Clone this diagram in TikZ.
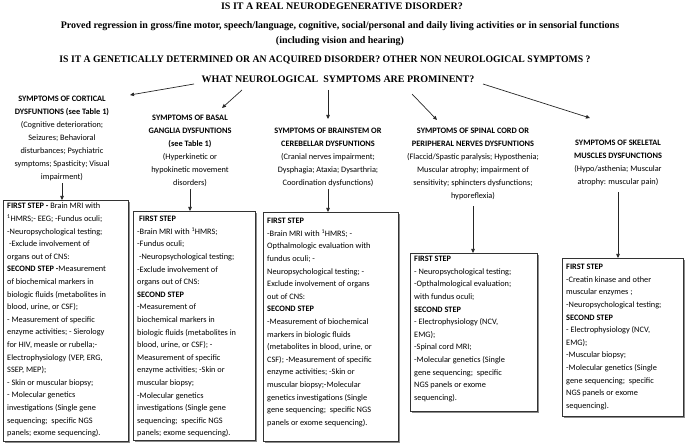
\documentclass[tikz,border=0pt]{standalone}
\usepackage{fontspec}
\setmainfont{Carlito}
\newfontfamily\tms{Liberation Serif}
\usetikzlibrary{arrows.meta,shadows}
\begin{document}
\begin{tikzpicture}[x=1pt,y=-1pt,
  q/.style={font=\tms\bfseries\fontsize{10}{12}\selectfont, inner sep=0, anchor=base},
  head/.style={align=center, font=\fontsize{8.3}{13}\selectfont, inner sep=0, anchor=north},
  frame/.style={draw=black!80, line width=0.7pt, fill=white, inner sep=0, anchor=north west,
    drop shadow={shadow xshift=1.2pt, shadow yshift=-1.2pt, fill=black!45, opacity=1}},
  btxt/.style={align=left, font=\fontsize{8.3}{12.6}\selectfont, inner sep=0, anchor=north west},
  arr/.style={-{Triangle[length=4pt,width=3.5pt]}, line width=0.7pt, black!85}
]
\useasboundingbox (0,0) rectangle (685,446);

% questions
\node[q] (q1) at (342,10) {IS IT A REAL NEURODEGENERATIVE DISORDER?};
\node[q] (q2) at (340,29) {Proved regression in gross/fine motor, speech/language, cognitive, social/personal and daily living activities or in sensorial functions};
\node[q] (q2b) at (340,44) {(including vision and hearing)};
\node[q, xscale=0.97] (q3) at (325,63) {IS IT A GENETICALLY DETERMINED OR AN ACQUIRED DISORDER? OTHER NON NEUROLOGICAL SYMPTOMS ?};
\node[q] (what) at (338,83) {WHAT NEUROLOGICAL\ \ SYMPTOMS ARE PROMINENT?};

% headings
\node[head] (h1) at (62,96) {\textbf{SYMPTOMS OF CORTICAL}\\ \textbf{DYSFUNTIONS (see Table 1)}\\ (Cognitive deterioration;\\ Seizures; Behavioral\\ disturbances; Psychiatric\\ symptoms; Spasticity; Visual\\ impairment)};
\node[head] (h2) at (190,115) {\textbf{SYMPTOMS OF BASAL}\\ \textbf{GANGLIA DYSFUNTIONS}\\ \textbf{(see Table 1)}\\ (Hyperkinetic or\\ hypokinetic movement\\ disorders)};
\node[head] (h3) at (328,128) {\textbf{SYMPTOMS OF BRAINSTEM OR}\\ \textbf{CEREBELLAR DYSFUNTIONS}\\ (Cranial nerves impairment;\\ Dysphagia; Ataxia; Dysarthria;\\ Coordination dysfunctions)};
\node[head] (h4) at (473,128) {\textbf{SYMPTOMS OF SPINAL CORD OR}\\ \textbf{PERIPHERAL NERVES DYSFUNTIONS}\\ (Flaccid/Spastic paralysis; Hyposthenia;\\ Muscular atrophy; impairment of\\ sensitivity; sphincters dysfunctions;\\ hyporeflexia)};
\node[head] (h5) at (618,140) {\textbf{SYMPTOMS OF SKELETAL}\\ \textbf{MUSCLES DYSFUNCTIONS}\\ (Hypo/asthenia; Muscular\\ atrophy: muscular pain)};

% boxes
\node[frame, minimum width=125, minimum height=241] (b1) at (3,200) {};
\node[frame, minimum width=122, minimum height=229] (b2) at (133,211) {};
\node[frame, minimum width=135, minimum height=229] (b3) at (263,212) {};
\node[frame, minimum width=127, minimum height=158] (b4) at (410,253) {};
\node[frame, minimum width=121, minimum height=158] (b5) at (562,258) {};

\node[btxt] (t1) at (7,203) {\textbf{FIRST STEP -} Brain MRI with\\ \textsuperscript{1}HMRS;- EEG; -Fundus oculi;\\ -Neuropsychological testing;\\ \ -Exclude involvement of\\ organs out of CNS:\\ \textbf{SECOND STEP -}Measurement\\ of biochemical markers in\\ biologic fluids (metabolites in\\ blood, urine, or CSF);\\ - Measurement of specific\\ enzyme activities; - Sierology\\ for HIV, measle or rubella;-\\ Electrophysiology (VEP, ERG,\\ SSEP, MEP);\\ - Skin or muscular biopsy;\\ - Molecular genetics\\ investigations (Single gene\\ sequencing;\ \ specific NGS\\ panels; exome sequencing).};
\node[btxt] (t2) at (137,216) {\ \textbf{FIRST STEP}\\ -Brain MRI with \textsuperscript{1}HMRS;\\ -Fundus oculi;\\ \ -Neuropsychological testing;\\ -Exclude involvement of\\ organs out of CNS:\\ \textbf{SECOND STEP}\\ -Measurement of\\ biochemical markers in\\ biologic fluids (metabolites in\\ blood, urine, or CSF); -\\ Measurement of specific\\ enzyme activities; -Skin or\\ muscular biopsy;\\ -Molecular genetics\\ investigations (Single gene\\ sequencing;\ \ specific NGS\\ panels; exome sequencing).};
\node[btxt] (t3) at (267,218) {\textbf{FIRST STEP}\\ -Brain MRI with \textsuperscript{1}HMRS; -\\ Opthalmologic evaluation with\\ fundus oculi; -\\ Neuropsychological testing; -\\ Exclude involvement of organs\\ out of CNS:\\ \textbf{SECOND STEP}\\ -Measurement of biochemical\\ markers in biologic fluids\\ (metabolites in blood, urine, or\\ CSF); -Measurement of specific\\ enzyme activities; -Skin or\\ muscular biopsy;-Molecular\\ genetics investigations (Single\\ gene sequencing;\ \ specific NGS\\ panels or exome sequencing).};
\node[btxt] (t4) at (414,256) {\textbf{FIRST STEP}\\ - Neuropsychological testing;\\ -Opthalmological evaluation;\\ with fundus oculi;\\ \textbf{SECOND STEP}\\ - Electrophysiology (NCV,\\ EMG);\\ -Spinal cord MRI;\\ -Molecular genetics (Single\\ gene sequencing;\ \ specific\\ NGS panels or exome\\ sequencing).};
\node[btxt] (t5) at (566,264) {\textbf{FIRST STEP}\\ -Creatin kinase and other\\ muscular enzymes ;\\ -Neuropsychological testing;\\ \textbf{SECOND STEP}\\ - Electrophysiology (NCV,\\ EMG);\\ -Muscular biopsy;\\ -Molecular genetics (Single\\ gene sequencing;\ \ specific\\ NGS panels or exome\\ sequencing).};

% arrows from the question
\coordinate (s1) at (194,84); \coordinate (e1) at (130,95);
\coordinate (s2) at (242,90); \coordinate (e2) at (222,108);
\coordinate (s3) at (328,90); \coordinate (e3) at (328,119);
\coordinate (s4) at (412,94); \coordinate (e4) at (437,120);
\coordinate (s5) at (483,84); \coordinate (e5) at (590,118);
\draw[arr] (s1) -- (e1);
\draw[arr] (s2) -- (e2);
\draw[arr] (s3) -- (e3);
\draw[arr] (s4) -- (e4);
\draw[arr] (s5) -- (e5);

% arrows heading -> box
\draw[arr] ([yshift=-2]h1.south) -- (h1.south |- b1.north);
\draw[arr] ([yshift=-2]h2.south) -- (h2.south |- b2.north);
\draw[arr] ([yshift=-2]h3.south) -- (h3.south |- b3.north);
\draw[arr] ([yshift=-6]h4.south) -- (h4.south |- b4.north);
\draw[arr] ([yshift=-6]h5.south) -- (h5.south |- b5.north);
\end{tikzpicture}
\end{document}
